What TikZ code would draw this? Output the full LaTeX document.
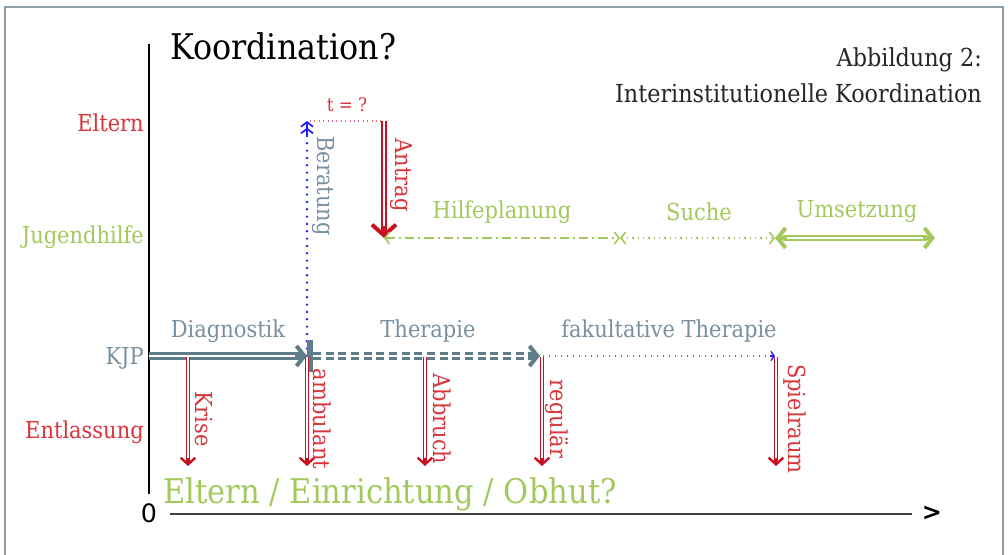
\documentclass[tikz,border=0pt]{standalone}
\usepackage{fontspec}
\setmainfont{DejaVu Serif Condensed}
\setsansfont{DejaVu Sans}
\usetikzlibrary{arrows.meta,calc}
\definecolor{kred}{HTML}{D8343A}
\definecolor{kdred}{HTML}{C8101E}
\definecolor{kgreen}{HTML}{A3C95C}
\definecolor{kgray}{HTML}{5F7C89}
\definecolor{kgtext}{HTML}{7890A0}
\definecolor{kblue}{HTML}{1E1EF5}
\definecolor{kframe}{HTML}{8C9DA5}
\tikzset{
  lbl/.style={font=\fontsize{17.5}{21}\selectfont, inner sep=0pt},
  redlbl/.style={lbl, text=kred},
  grnlbl/.style={lbl, text=kgreen},
  graylbl/.style={lbl, text=kgtext},
  vlbl/.style={rotate=-90},
  redshaft/.style={draw=kdred, double=white, line width=0.7pt, double distance=1.3pt},
  redtip/.style={draw=kdred, line width=1.8pt, -{Straight Barb[length=5pt,width=11pt]}},
  antshaft/.style={draw=kdred, double=white, line width=1.3pt, double distance=1.4pt},
  anttip/.style={draw=kdred, line width=3pt, -{Straight Barb[length=8pt,width=18pt]}},
  kjpshaft/.style={draw=kgray, double=white, line width=2.2pt, double distance=1.1pt},
  kjptip/.style={draw=kgray, line width=3pt, -{Straight Barb[length=6pt,width=15pt]}},
  umshaft/.style={draw=kgreen, double=white, line width=1.6pt, double distance=1.4pt},
  umtip/.style={draw=kgreen, line width=3pt, -{Straight Barb[length=6pt,width=15pt]}},
  gthin/.style={draw=kgreen, line width=1.2pt, {Straight Barb[length=3.5pt,width=9pt]}-{Straight Barb[length=3.5pt,width=9pt]}},
}
\begin{document}
\begin{tikzpicture}[x=0.75pt,y=-0.75pt]
\useasboundingbox (0,0) rectangle (1008,555);
% frame
\draw[kframe, line width=1.5pt] (5,570) -- (5,7) -- (1003,7) -- (1003,570);
% axes
\coordinate (ytop) at (149,44);
\coordinate (ybot) at (149,494);
\draw[black, line width=0.8pt] (ytop) -- (ybot);
\coordinate (xl) at (170,514);
\coordinate (xr) at (912,514);
\draw[black!75, line width=1.1pt] (xl) -- (xr);
\node[font=\sffamily\fontsize{19}{22}\selectfont, inner sep=0pt] (zero) at (149,513) {0};
\node[font=\sffamily\bfseries\fontsize{18}{21}\selectfont, inner sep=0pt] (gt) at (932,513) {>};
% titles
\node[font=\fontsize{26.5}{31}\selectfont, anchor=base west, inner sep=0pt] (title) at (170,60) {Koordination?};
\node[font=\fontsize{18.6}{22}\selectfont, anchor=base east, inner sep=0pt, text=black!85] (abb) at (982,67) {Abbildung 2:};
\node[font=\fontsize{18.6}{22}\selectfont, anchor=base east, inner sep=0pt, text=black!85] (inter) at (982,103) {Interinstitutionelle Koordination};
% row labels
\node[redlbl, anchor=east] (leltern) at (144,123) {Eltern};
\node[grnlbl, anchor=east] (ljug) at (144,237) {Jugendhilfe};
\node[graylbl, anchor=east] (lkjp) at (144,358) {KJP};
\node[redlbl, anchor=east] (lent) at (144,432) {Entlassung};
% key points
\coordinate (bE) at (307,121);
\coordinate (bK) at (307,356);
\coordinate (tE) at (310,121);
\coordinate (aE) at (384,121);
\coordinate (aJ) at (384,238);
\coordinate (hJ) at (620,238);
\coordinate (sJ) at (775,238);
\coordinate (uJ) at (935,238);
\coordinate (k0) at (149,356);
\coordinate (k1) at (307,356);
\coordinate (k2) at (540,356);
\coordinate (k3) at (775,356);
\coordinate (bar1) at (310,340);
\coordinate (bar2) at (310,372);
% Beratung (blue dotted, up)
\draw[kblue, line width=2pt, dash pattern=on 0pt off 5.5pt, line cap=round] (bK) -- ($(bE)+(0,12)$);
\draw[kblue, line width=1.3pt, -{Straight Barb[length=3.5pt,width=9pt] Straight Barb[length=3.5pt,width=9pt]}] ($(bE)+(0,14)$) -- (bE);
\node[graylbl, vlbl] (lber) at (323,186) {Beratung};
% t = ?
\draw[kred!70, line width=0.8pt, dash pattern=on 0.8pt off 2.5pt] (tE) -- (aE);
\node[redlbl, font=\fontsize{14}{16}\selectfont] (lt) at (347,105) {t = ?};
% Antrag
\draw[antshaft] (aE) -- ($(aJ)+(0,-6)$);
\draw[anttip] ($(aJ)+(0,-12)$) -- (aJ);
\node[redlbl, vlbl] (lant) at (401,175) {Antrag};
% Jugendhilfe line
\draw[gthin, dash pattern=on 7pt off 3pt on 1.5pt off 3pt] (aJ) -- (hJ);
\draw[gthin, dash pattern=on 1pt off 3pt] (hJ) -- (sJ);
\draw[umshaft] ($(sJ)+(8,0)$) -- ($(uJ)+(-8,0)$);
\draw[umtip] ($(sJ)+(12,0)$) -- (sJ);
\draw[umtip] ($(uJ)+(-12,0)$) -- (uJ);
\node[grnlbl] (lhilf) at (502,212) {Hilfeplanung};
\node[grnlbl] (lsuch) at (699,212) {Suche};
\node[grnlbl] (lums) at (857,212) {Umsetzung};
% KJP line
\draw[kjpshaft] (k0) -- ($(k1)+(-5,0)$);
\draw[kjptip] ($(k1)+(-12,0)$) -- (k1);
\draw[kgray, line width=4pt] (bar1) -- (bar2);
\draw[kjpshaft, dash pattern=on 6pt off 3.5pt] ($(k1)+(6,0)$) -- ($(k2)+(-5,0)$);
\draw[kjptip] ($(k2)+(-12,0)$) -- (k2);
\draw[kgray, line width=1.5pt, dash pattern=on 1pt off 3.5pt] ($(k2)+(3,0)$) -- ($(k3)+(-3,0)$);
\draw[kblue, line width=1pt, -{Straight Barb[length=2.5pt,width=7pt]}] ($(k3)+(-5,0)$) -- (k3);
\node[graylbl] (ldiag) at (228,331) {Diagnostik};
\node[graylbl] (lther) at (428,331) {Therapie};
\node[graylbl] (lfak) at (669,331) {fakultative Therapie};
% Entlassung arrows
\foreach \x/\n/\cx/\t in {188/kr/204/Krise, 307/am/322/ambulant, 425/ab/442/Abbruch, 542/re/557/regulär, 776/sp/795/Spielraum}{
  \coordinate (\n s) at (\x,357);
  \coordinate (\n e) at (\x,466);
  \draw[redshaft] (\n s) -- ($(\n e)+(0,-4)$);
  \draw[redtip] ($(\n e)+(0,-8)$) -- (\n e);
  \node[redlbl, vlbl] (\n l) at (\cx,419) {\t};
}
% bottom text
\node[font=\fontsize{25.5}{30}\selectfont, text=kgreen, anchor=base west, inner sep=0pt] (lbottom) at (163,504) {Eltern / Einrichtung / Obhut?};
\end{tikzpicture}
\end{document}
